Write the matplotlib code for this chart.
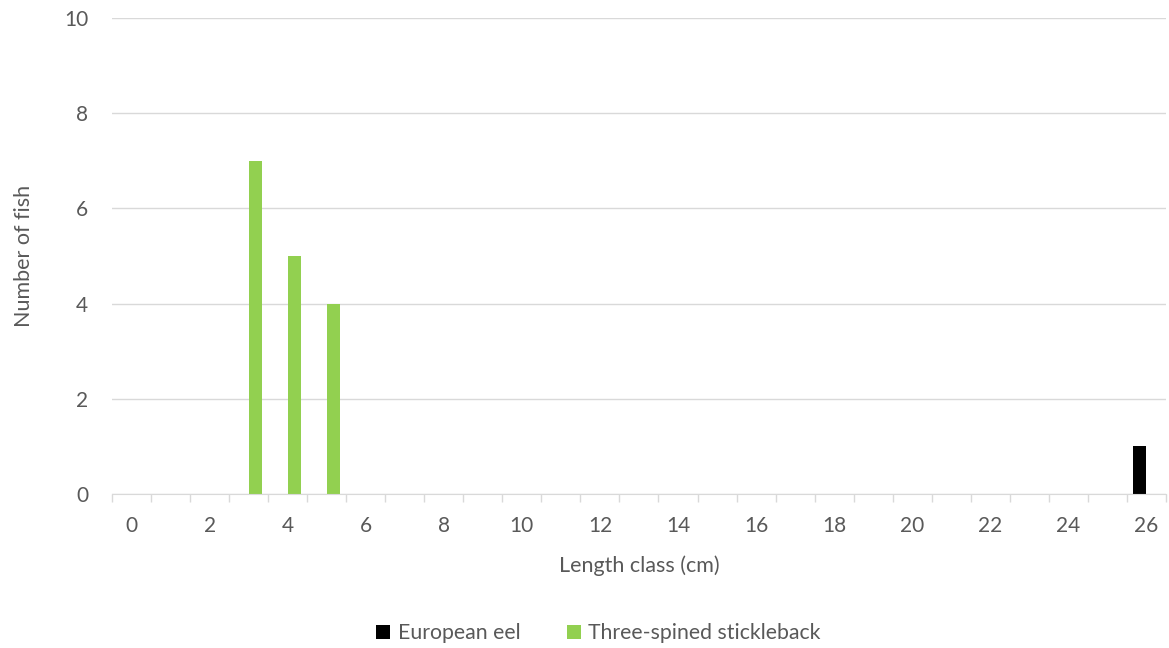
import matplotlib.pyplot as plt
import numpy as np

# length classes (cm) and counts per species
length_classes = list(range(27))
european_eel = [0] * 26 + [1]
stickleback = [0, 0, 0, 7, 5, 4] + [0] * 21
tick_labels = [str(c) if c % 2 == 0 else "" for c in length_classes]

plt.rcParams['font.family'] = ['Lato', 'DejaVu Sans']
grey_text = '#595959'
grid_col = '#d9d9d9'

fig = plt.figure(figsize=(11.69, 6.48), dpi=100)
ax = fig.add_axes([0.0958, 0.2377, 0.9016, 0.7345])

x = np.arange(len(length_classes))
w = 1 / 3
ax.bar(x - w / 2, european_eel, width=w, color='#000000', label='European eel', zorder=3)
ax.bar(x + w / 2, stickleback, width=w, color='#92d050', label='Three-spined stickleback', zorder=3)

ax.set_xlim(-0.5, len(length_classes) - 0.5)
ax.set_ylim(0, 10)
ax.set_yticks(range(0, 11, 2))
ax.set_xticks(x)
ax.set_xticklabels(tick_labels)
ax.set_xticks(np.arange(-0.5, len(length_classes), 1), minor=True)

ax.tick_params(axis='x', which='major', length=0, pad=16, labelsize=15, labelcolor=grey_text)
ax.tick_params(axis='x', which='minor', length=6, color=grid_col, width=1)
ax.tick_params(axis='y', length=0, pad=17, labelsize=15, labelcolor=grey_text)

ax.grid(axis='y', color=grid_col, linewidth=1, zorder=0)
for s in ['top', 'right', 'left']:
    ax.spines[s].set_visible(False)
ax.spines['bottom'].set_color(grid_col)
ax.spines['bottom'].set_zorder(4)

ax.set_xlabel('Length class (cm)', fontsize=15.5, color=grey_text, labelpad=14)
ax.set_ylabel('Number of fish', fontsize=15.5, color=grey_text, labelpad=22)

fig.legend(loc='lower center', bbox_to_anchor=(0.512, -0.022), ncol=2, frameon=False,
           fontsize=15.3, labelcolor=grey_text, handlelength=0.65, handleheight=0.65,
           handletextpad=0.35, columnspacing=2.2)

fig.savefig('out.png', dpi=100)
